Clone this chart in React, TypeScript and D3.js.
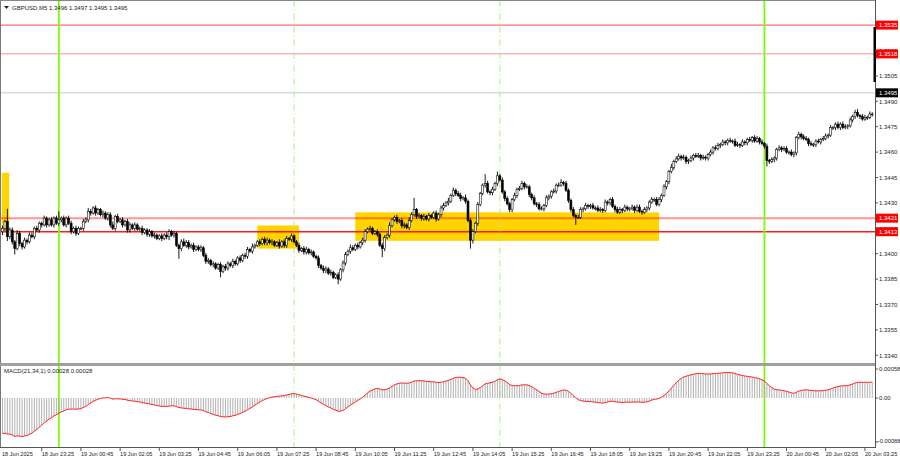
import React from "react";
import * as d3 from "d3";

// ---------- DATA ----------
const SYMBOL = "GBPUSD,M5";
const headerValues = ["1.3496", "1.3497", "1.3495", "1.3495"];
const BASE_PRICE = 1.34;
const PIP = 0.0001;
const FIRST_OPEN_PIPS = 13;

// closes, in pips above 1.3400, one per M5 bar (18 Jun 22:05 -> 20 Jun 03:40)
const closePips = [
  15, 19, 10, 14, 7, 3, 12, 6, 4, 8, 7, 11, 10, 15, 14, 18,
  17, 21, 17, 20, 17, 21, 18, 20, 21, 17, 21, 18, 13, 15, 12, 15,
  15, 19, 20, 25, 24, 27, 24, 26, 23, 24, 21, 23, 17, 15, 22, 19,
  20, 17, 19, 14, 17, 15, 17, 14.5, 15, 12.5, 14, 11.5, 13, 10.5, 11, 9,
  10.5, 9, 11, 10, 13, 11, 12, 5, 3, 7, 5, 6.5, 4, 5, 2.5, 4,
  2.5, 3.5, -1, -4.5, -4, -6.5, -6, -8.5, -6.5, -10.5, -7.5, -8.5, -6, -7, -4.5, -6,
  -2.5, -4, -1, -1.5, 2.5, 1.5, 4, 5, 7, 6, 8.5, 6.5, 8, 6.5, 7, 5,
  6.5, 4.5, 7, 5, 9, 8.5, 10.5, 7, 5, 2, 3, 1, 2.5, 0.5, 1, -1.5,
  -2.5, -7, -8.5, -10, -9, -11.5, -11, -14, -12.5, -15, -9.5, -5.5, -0.5, 1.5, 3.5, 2.5,
  5, 4, 6.5, 8, 13, 14.5, 15, 12, 13, 11.5, 5, 3, 9.5, 11, 16.5, 20,
  21.5, 19, 19.5, 16.5, 17, 15.5, 19.5, 23, 26, 22, 22.5, 21, 22, 20.5, 22.5, 21.5,
  24, 20.5, 23, 27, 28.5, 30, 31, 34.5, 37.5, 35.5, 34.5, 32.5, 33, 31, 19.5, 8,
  13, 18, 29, 35.5, 40.5, 41.5, 36.5, 36, 38, 41.5, 46, 43.5, 36.5, 32.5, 29.5, 26,
  32, 34.5, 38, 38.5, 41.5, 39.5, 39.5, 35, 33, 29.5, 29, 26.5, 26.5, 28.5, 33, 34,
  36.5, 37, 40.5, 40.5, 42, 41.5, 37.5, 31.5, 26, 22.5, 21.5, 21.5, 26, 26.5, 28.5, 28,
  28.5, 27, 27, 25.5, 26, 25.5, 30.5, 30, 32, 28, 26, 24.5, 26, 25.5, 27.5, 26.5,
  26.5, 27.5, 25.5, 27.5, 25, 24.5, 26, 27, 30.5, 32, 32, 29, 32, 34.5, 39.5, 42.5,
  48.5, 51, 54.5, 56, 57.5, 56.5, 57, 54.5, 55, 56.5, 58, 57.5, 58, 56.5, 57, 56.5,
  58.5, 60, 62.5, 62, 64, 64.5, 66, 65.5, 67, 66.5, 66.5, 64, 64.5, 64, 66, 65.5,
  67.5, 67, 68.5, 66.5, 68, 66, 65, 63.5, 55, 54.5, 55.5, 56.5, 61.5, 62.5, 61.5, 62,
  60, 60, 58.5, 59.5, 68.5, 70.5, 69, 68, 67.5, 65, 64.5, 64.5, 66.5, 66, 67.5, 68,
  69.5, 70, 74.5, 74.5, 76.5, 74.5, 76.5, 74.5, 75, 75.5, 79, 81, 83.5, 81.5, 81, 79.5,
  80.5, 80.5, 82.5, 82.5,
];

// wick lengths per bar, base-36 digits in half-pips
const wickUpCodes =
  "32f3 3243 2323 3232 2322 323a 2323 3232 2334 3232 2323 3423 2323 3232 2322 3232 " +
  "2323 3232 2343 3232 2323 3232 2323 3232 2323 3242 2323 3232 2423 3232 2323 3232 " +
  "2323 3232 2323 3243 2323 3232 2323 3242 2323 3243 e232 3232 2323 3242 3233 2423 " +
  "3232 2b32 3252 3232 2323 3232 2323 3232 2323 4232 2323 3232 2323 3232 2323 3232 " +
  "2323 3232 2323 3232 2423 3232 2323 3232 2323 3232 2323 3232 2323 3232 3232 2323 " +
  "3232 2323 3232 2323 3232 2323 3232 3423 3232";
const wickDnCodes =
  "4353 3723 3232 2323 3232 2323 3232 3232 2323 3232 2323 3232 2323 3232 2323 3232 " +
  "2323 4232 c323 3232 2323 3232 2723 3232 2323 3232 2323 3232 2323 3232 2323 3232 " +
  "2323 3232 2623 3232 2323 3232 232a 3232 2323 3232 2323 3232 2323 3232 2323 232a " +
  "4232 2323 3232 2323 3232 2323 3232 2323 3232 2323 3292 2323 3232 2323 3232 2323 " +
  "3232 2323 3232 2323 3232 2323 3232 2323 3232 2323 3232 2323 3232 2323 7323 3232 " +
  "2323 3232 2323 3232 2323 3232 2323 3232 2323";

const timeLabels = [
  "18 Jun 2025", "18 Jun 23:25", "19 Jun 00:45", "19 Jun 02:05", "19 Jun 03:25",
  "19 Jun 04:45", "19 Jun 06:05", "19 Jun 07:25", "19 Jun 08:45", "19 Jun 10:05",
  "19 Jun 11:25", "19 Jun 12:45", "19 Jun 14:05", "19 Jun 15:25", "19 Jun 16:45",
  "19 Jun 18:05", "19 Jun 19:25", "19 Jun 20:45", "19 Jun 22:05", "19 Jun 23:25",
  "20 Jun 00:45", "20 Jun 02:05", "20 Jun 03:25",
];
const TIME_LABEL_EVERY = 16; // bars

const priceTicks = [
  1.334, 1.3355, 1.337, 1.3385, 1.34, 1.3415, 1.343, 1.3445, 1.346, 1.3475,
  1.349, 1.3505, 1.352, 1.3535,
];

const levelPrices = [1.3535, 1.3518, 1.3421, 1.3413];
const levelOpacity = [0.72, 0.45, 0.42, 0.9];
const levelWidth = [1, 1, 2, 1.6];
const currentPrice = 1.3495;

// highlighted zones: [fromBar, toBar, topPrice, bottomPrice]
const zoneFrom = [-0.3, 104, 144];
const zoneTo = [2.7, 121, 268];
const zoneTop = [1.34478, 1.34167, 1.34244];
const zoneBottom = [1.34128, 1.3403, 1.34076];

const daySeparatorBars = [23, 311];
const sessionBars = [119, 203];

// MACD(21,34,1)
const MACD_FAST = 21;
const MACD_SLOW = 34;
const emaFastSeed = 1.343;
const emaSlowSeed = 1.3437;
const macdTicks = [0.00058, 0, -0.00088];
const macdLabel = "MACD(21,34,1) 0.00028 0.00028";

// ---------- LAYOUT ----------
const W = 900;
const H = 460;
const LEFT = 0.5;
const RIGHT = 875;
const MAIN_TOP = 0.5;
const MAIN_BOTTOM = 362.5;
const MACD_TOP = 366;
const AXIS_Y = 447;
const BAR_STEP = 2.45;
const FIRST_X = 2.5;
const FONT = "'Liberation Sans', Arial, sans-serif";

export default function App() {
  const n = closePips.length;
  const x = d3
    .scaleLinear()
    .domain([0, n - 1])
    .range([FIRST_X, FIRST_X + BAR_STEP * (n - 1)]);
  const y = d3.scaleLinear().domain([1.334, 1.3475]).range([355.3, 126.7]);
  const ym = d3
    .scaleLinear()
    .domain([macdTicks[2], macdTicks[0]])
    .range([442, 369]);

  const up = wickUpCodes.replace(/ /g, "");
  const dn = wickDnCodes.replace(/ /g, "");

  const candles = closePips.map((c, i) => {
    const open = BASE_PRICE + (i === 0 ? FIRST_OPEN_PIPS : closePips[i - 1]) * PIP;
    const close = BASE_PRICE + c * PIP;
    const wu = (parseInt(up[i] ?? "2", 36) || 0) * 0.5 * PIP;
    const wd = (parseInt(dn[i] ?? "2", 36) || 0) * 0.5 * PIP;
    return {
      i,
      open,
      close,
      high: Math.max(open, close) + wu,
      low: Math.min(open, close) - wd,
    };
  });

  // MACD main line (signal SMA(1) equals main)
  const aF = 2 / (MACD_FAST + 1);
  const aS = 2 / (MACD_SLOW + 1);
  let eF = emaFastSeed;
  let eS = emaSlowSeed;
  const macd = candles.map((c) => {
    eF = eF + aF * (c.close - eF);
    eS = eS + aS * (c.close - eS);
    return eF - eS;
  });
  const macdLine = d3
    .line<number>()
    .x((_, i) => x(i))
    .y((v) => ym(v))(macd) as string;

  const fmtPrice = d3.format(".4f");
  const fmtMacd = (v: number) => (v === 0 ? "0.00" : d3.format(".5f")(v));

  return (
    <div style={{ position: "fixed", left: 0, top: 0, width: W, height: H, background: "#fff" }}>
      <svg width={W} height={H} style={{ display: "block", fontFamily: FONT }}>
        <defs>
          <clipPath id="mainClip">
            <rect x={LEFT} y={MAIN_TOP} width={RIGHT - LEFT} height={MAIN_BOTTOM - MAIN_TOP} />
          </clipPath>
          <clipPath id="macdClip">
            <rect x={LEFT} y={MACD_TOP} width={RIGHT - LEFT} height={AXIS_Y - MACD_TOP} />
          </clipPath>
        </defs>
        <rect x={0} y={0} width={W} height={H} fill="#ffffff" />

        {/* zones */}
        <g clipPath="url(#mainClip)">
          {zoneFrom.map((f, k) => (
            <rect
              key={k}
              x={x(f)}
              y={y(zoneTop[k])}
              width={x(zoneTo[k]) - x(f)}
              height={y(zoneBottom[k]) - y(zoneTop[k])}
              fill="#ffd400"
            />
          ))}
          {/* current price line */}
          <line x1={LEFT} x2={RIGHT} y1={y(currentPrice)} y2={y(currentPrice)} stroke="#c8c8c8" strokeWidth={1} />
          {/* horizontal levels */}
          {levelPrices.map((p, k) => (
            <line
              key={k}
              x1={LEFT}
              x2={RIGHT}
              y1={y(p)}
              y2={y(p)}
              stroke="#ff0000"
              strokeOpacity={levelOpacity[k]}
              strokeWidth={levelWidth[k]}
            />
          ))}
        </g>

        {/* vertical markers through both panels */}
        {daySeparatorBars.map((b) => (
          <line key={"d" + b} x1={x(b)} x2={x(b)} y1={MAIN_TOP} y2={AXIS_Y} stroke="#7cfc00" strokeWidth={1.8} />
        ))}
        {sessionBars.map((b) => (
          <line
            key={"s" + b}
            x1={x(b)}
            x2={x(b)}
            y1={MAIN_TOP}
            y2={AXIS_Y}
            stroke="#a6ec8c"
            strokeWidth={1}
            strokeDasharray="6,3,1,3"
          />
        ))}

        {/* candles */}
        <g clipPath="url(#mainClip)">
          {candles.map((c) => {
            const cx = x(c.i);
            const bull = c.close >= c.open;
            const top = y(Math.max(c.open, c.close));
            const bot = y(Math.min(c.open, c.close));
            const h = Math.max(bot - top, 0.8);
            return (
              <g key={c.i}>
                <line x1={cx} x2={cx} y1={y(c.high)} y2={y(c.low)} stroke="#000" strokeWidth={0.9} />
                <rect
                  x={cx - 1}
                  y={top}
                  width={2}
                  height={h}
                  fill={bull ? "#ffffff" : "#000000"}
                  stroke="#000"
                  strokeWidth={0.55}
                />
              </g>
            );
          })}
        </g>

        {/* MACD histogram + line */}
        <g clipPath="url(#macdClip)">
          {macd.map((v, i) => (
            <line key={i} x1={x(i)} x2={x(i)} y1={ym(0)} y2={ym(v)} stroke="#a9a9a9" strokeWidth={0.9} />
          ))}
          <path d={macdLine} fill="none" stroke="#ff2020" strokeWidth={1} />
        </g>
        <text x={4} y={373} fontSize={6} fill="#222">
          {macdLabel}
        </text>

        {/* frame */}
        <g shapeRendering="crispEdges">
          <line x1={LEFT} x2={LEFT} y1={0} y2={AXIS_Y} stroke="#777" />
          <line x1={0} x2={RIGHT} y1={MAIN_TOP} y2={MAIN_TOP} stroke="#888" />
          <line x1={RIGHT} x2={RIGHT} y1={0} y2={AXIS_Y + 1} stroke="#555" />
          <rect x={0} y={MAIN_BOTTOM} width={RIGHT} height={3} fill="#a0a0a0" />
          <line x1={0} x2={RIGHT} y1={AXIS_Y} y2={AXIS_Y} stroke="#555" />
        </g>

        {/* right edge marker */}
        <rect x={873.5} y={27} width={2.5} height={55} fill="#000" />

        {/* price axis */}
        {priceTicks.map((p) => (
          <g key={p}>
            <line x1={RIGHT} x2={RIGHT + 3} y1={y(p)} y2={y(p)} stroke="#555" />
            <text x={879} y={y(p) + 2.2} fontSize={6} fill="#222">
              {fmtPrice(p)}
            </text>
          </g>
        ))}
        {/* current price label */}
        <rect x={876} y={y(currentPrice) - 4.5} width={22} height={9} fill="#000" />
        <text x={879} y={y(currentPrice) + 2.2} fontSize={6} fill="#fff">
          {fmtPrice(currentPrice)}
        </text>
        {levelPrices.map((p) => (
          <g key={"l" + p}>
            <rect x={876} y={y(p) - 4.5} width={22} height={9} fill="#ff0000" />
            <text x={879} y={y(p) + 2.2} fontSize={6} fill="#fff">
              {fmtPrice(p)}
            </text>
          </g>
        ))}

        {/* MACD axis */}
        {macdTicks.map((v) => (
          <g key={"m" + v}>
            <line x1={RIGHT} x2={RIGHT + 3} y1={ym(v)} y2={ym(v)} stroke="#555" />
            <text x={v < 0 ? 876.5 : 879} y={ym(v) + (v < 0 ? 0.5 : 2.2)} fontSize={v < 0 ? 5.7 : 6} fill="#222">
              {fmtMacd(v)}
            </text>
          </g>
        ))}

        {/* time axis */}
        {timeLabels.map((t, k) => {
          const tx = x(k * TIME_LABEL_EVERY);
          return (
            <g key={t}>
              {k > 0 && <line x1={tx} x2={tx} y1={AXIS_Y} y2={AXIS_Y + 4} stroke="#555" />}
              <text x={k === 0 ? 2 : tx} y={456} fontSize={5.6} fill="#222">
                {t}
              </text>
            </g>
          );
        })}

        {/* header */}
        <path d="M4,6 L9,6 L6.5,9 Z" fill="#222" />
        <text x={12} y={10} fontSize={6} fill="#222">
          {SYMBOL + "  " + headerValues.join(" ")}
        </text>
      </svg>
    </div>
  );
}
